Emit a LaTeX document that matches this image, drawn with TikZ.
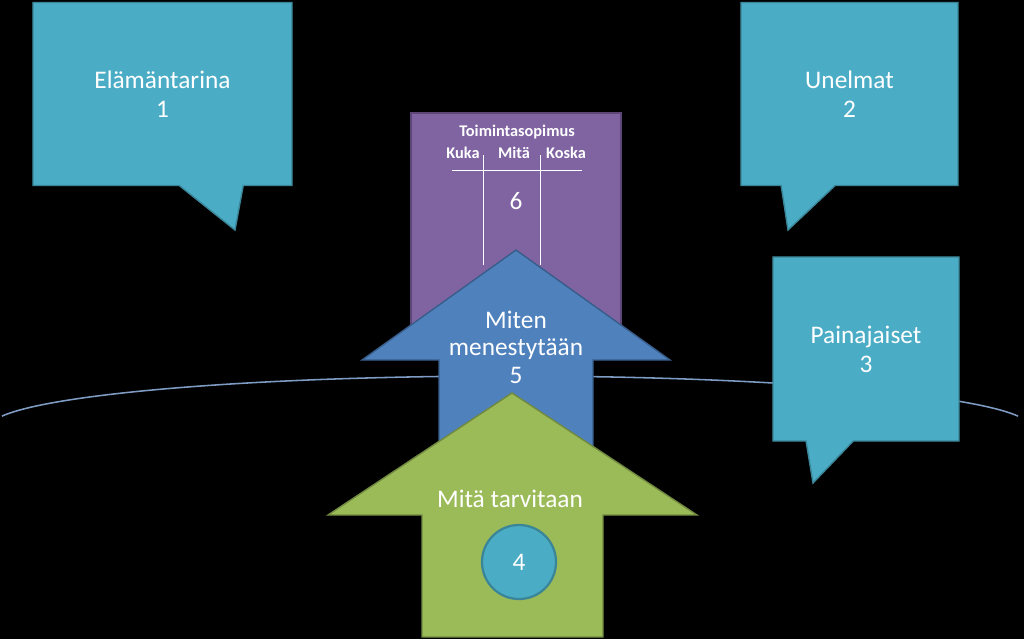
\documentclass[tikz,border=0pt]{standalone}
\usepackage{fontspec}
\setmainfont{Carlito}
\usetikzlibrary{shapes.callouts}

\definecolor{bubble}{HTML}{4BACC6}
\definecolor{bubbleline}{HTML}{3A8597}
\definecolor{plan}{HTML}{8064A2}
\definecolor{planline}{HTML}{5C4776}
\definecolor{how}{HTML}{4F81BD}
\definecolor{howline}{HTML}{385D8A}
\definecolor{need}{HTML}{9BBB59}
\definecolor{needline}{HTML}{71893F}
\definecolor{horizon}{HTML}{7F9CC4}

\tikzset{
  bubblebox/.style={rectangle callout, fill=bubble, draw=bubbleline, line width=1pt,
    text=white, align=center, inner sep=0pt, font=\fontsize{18}{20.5}\selectfont},
  bigtext/.style={text=white, align=center, inner sep=0pt, font=\fontsize{18}{19.5}\selectfont},
  smalltext/.style={text=white, inner sep=0pt, font=\fontsize{11.6}{13}\selectfont\bfseries},
  tablerule/.style={white, line width=0.7pt}
}

\begin{document}
\begin{tikzpicture}[x=0.025cm, y=-0.025cm]
  % background
  \fill[black] (0,0) rectangle (1024,639);

  % horizon
  \draw[horizon, line width=1.1pt] plot[domain=167.7:12.3, samples=90]
    ({510+520*cos(\x)}, {427-51*sin(\x)});

  % speech bubbles
  \node[bubblebox, minimum width=6.475cm, minimum height=4.575cm,
    callout absolute pointer={(235,230)}, callout pointer width=1.6cm]
    (story) at (162.5,94) {Elämäntarina\\1};
  \node[bubblebox, minimum width=5.425cm, minimum height=4.575cm,
    callout absolute pointer={(788,230)}, callout pointer width=1.35cm]
    (dreams) at (849.5,94) {Unelmat\\2};
  \node[bubblebox, minimum width=4.65cm, minimum height=4.6cm,
    callout absolute pointer={(813,483)}, callout pointer width=1.18cm]
    (nightmares) at (866,349) {Painajaiset\\3};

  % action plan
  \draw[fill=plan, draw=planline, line width=1pt] (411,113) rectangle (621,330);
  \node[smalltext] (plantitle) at (517,132) {Toimintasopimus};
  \node[smalltext] (who) at (463,153) {Kuka};
  \node[smalltext] (what) at (514,153) {Mitä};
  \node[smalltext] (when) at (566,153) {Koska};
  \draw[tablerule] (452,170) -- (582,170);
  \draw[tablerule] (483,155) -- (483,265);
  \draw[tablerule] (540,155) -- (540,265);
  \node[bigtext] (six) at (516,201) {6};

  % how to succeed
  \draw[fill=how, draw=howline, line width=1pt]
    (516,250) -- (670,360) -- (593,360) -- (593,450) -- (439,450)
    -- (439,360) -- (362,360) -- cycle;
  \node[bigtext] (success) at (516,347) {Miten\\menestytään\\5};

  % what is needed
  \draw[fill=need, draw=needline, line width=1pt]
    (512,393) -- (697,515) -- (603,515) -- (603,637) -- (422,637)
    -- (422,515) -- (328,515) -- cycle;
  \node[bigtext] (needed) at (510,499) {Mitä tarvitaan};
  \node[circle, fill=bubble, draw=bubbleline, line width=1.6pt, minimum size=1.85cm,
    text=white, font=\fontsize{18}{20}\selectfont] (four) at (519,562) {4};
\end{tikzpicture}
\end{document}
